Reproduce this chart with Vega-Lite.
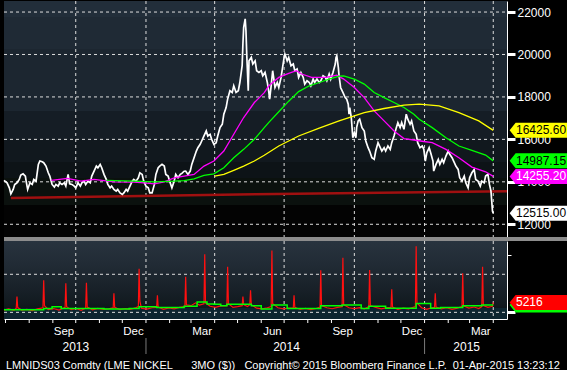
{
"$schema": "https://vega.github.io/schema/vega-lite/v6.json",
"background": "black",
"padding": 0,
"spacing": 4,
"bounds": "flush",
"config": {"view": {"stroke": null}, "font": "Liberation Sans", "axis": {"labelFont": "Liberation Sans"}},
"title": {"text": "LMNIDS03 Comdty (LME NICKEL\u00a0\u00a0\u00a0\u00a0\u00a0\u00a03MO ($))\u00a0\u00a0\u00a0Copyright\u00a9 2015 Bloomberg Finance L.P.\u00a0\u00a001-Apr-2015 13:23:12", "orient": "bottom", "anchor": "start", "frame": "group", "color": "white", "fontSize": 11, "fontWeight": "normal", "font": "Liberation Sans", "offset": 5, "dx": 2},
"datasets": {
"price": [
{"d":"2013-06-29","v":14066},{"d":"2013-07-03","v":13953},{"d":"2013-07-06","v":13716},{"d":"2013-07-08","v":13432},{"d":"2013-07-11","v":13640},{"d":"2013-07-13","v":13877},{"d":"2013-07-16","v":13953},{"d":"2013-07-19","v":14113},{"d":"2013-07-21","v":14317},{"d":"2013-07-24","v":14379},{"d":"2013-07-27","v":14270},{"d":"2013-07-28","v":14033},{"d":"2013-07-30","v":13640},{"d":"2013-08-02","v":13953},{"d":"2013-08-05","v":13877},{"d":"2013-08-07","v":14113},{"d":"2013-08-10","v":14033},{"d":"2013-08-13","v":14820},{"d":"2013-08-15","v":14980},{"d":"2013-08-18","v":14946},{"d":"2013-08-20","v":14900},{"d":"2013-08-23","v":14742},{"d":"2013-08-26","v":14426},{"d":"2013-08-28","v":14270},{"d":"2013-08-31","v":13877},{"d":"2013-09-03","v":13750},{"d":"2013-09-05","v":13877},{"d":"2013-09-08","v":13797},{"d":"2013-09-10","v":13953},{"d":"2013-09-13","v":13877},{"d":"2013-09-16","v":13953},{"d":"2013-09-18","v":13797},{"d":"2013-09-21","v":14350},{"d":"2013-09-23","v":13906},{"d":"2013-09-26","v":13877},{"d":"2013-09-29","v":13797},{"d":"2013-10-01","v":13716},{"d":"2013-10-04","v":13953},{"d":"2013-10-07","v":13797},{"d":"2013-10-09","v":13953},{"d":"2013-10-12","v":14033},{"d":"2013-10-14","v":13877},{"d":"2013-10-17","v":14033},{"d":"2013-10-20","v":13953},{"d":"2013-10-22","v":14270},{"d":"2013-10-25","v":14506},{"d":"2013-10-28","v":14742},{"d":"2013-10-30","v":14662},{"d":"2013-11-02","v":14820},{"d":"2013-11-04","v":14662},{"d":"2013-11-07","v":14350},{"d":"2013-11-10","v":14113},{"d":"2013-11-12","v":13877},{"d":"2013-11-15","v":13716},{"d":"2013-11-17","v":13797},{"d":"2013-11-20","v":13640},{"d":"2013-11-23","v":13560},{"d":"2013-11-25","v":13640},{"d":"2013-11-28","v":13480},{"d":"2013-12-01","v":13404},{"d":"2013-12-03","v":13480},{"d":"2013-12-06","v":13640},{"d":"2013-12-08","v":13560},{"d":"2013-12-11","v":13797},{"d":"2013-12-14","v":14033},{"d":"2013-12-16","v":14113},{"d":"2013-12-19","v":14033},{"d":"2013-12-22","v":14190},{"d":"2013-12-24","v":14426},{"d":"2013-12-27","v":14350},{"d":"2013-12-29","v":14033},{"d":"2014-01-01","v":13797},{"d":"2014-01-04","v":13716},{"d":"2014-01-06","v":13480},{"d":"2014-01-09","v":13480},{"d":"2014-01-12","v":13877},{"d":"2014-01-14","v":14350},{"d":"2014-01-17","v":14662},{"d":"2014-01-19","v":14742},{"d":"2014-01-22","v":14820},{"d":"2014-01-25","v":14742},{"d":"2014-01-27","v":14350},{"d":"2014-01-30","v":14270},{"d":"2014-02-01","v":14033},{"d":"2014-02-04","v":13716},{"d":"2014-02-07","v":14033},{"d":"2014-02-09","v":14350},{"d":"2014-02-12","v":14190},{"d":"2014-02-15","v":14350},{"d":"2014-02-17","v":14400},{"d":"2014-02-20","v":14500},{"d":"2014-02-22","v":14506},{"d":"2014-02-25","v":14350},{"d":"2014-02-28","v":14506},{"d":"2014-03-02","v":14820},{"d":"2014-03-05","v":15135},{"d":"2014-03-08","v":15451},{"d":"2014-03-10","v":15608},{"d":"2014-03-13","v":15766},{"d":"2014-03-15","v":15924},{"d":"2014-03-18","v":16160},{"d":"2014-03-21","v":16397},{"d":"2014-03-23","v":16160},{"d":"2014-03-26","v":16240},{"d":"2014-03-28","v":16004},{"d":"2014-03-31","v":15766},{"d":"2014-04-03","v":15845},{"d":"2014-04-05","v":16160},{"d":"2014-04-08","v":16553},{"d":"2014-04-11","v":16712},{"d":"2014-04-13","v":17187},{"d":"2014-04-16","v":17500},{"d":"2014-04-18","v":17896},{"d":"2014-04-21","v":18290},{"d":"2014-04-24","v":18210},{"d":"2014-04-26","v":18525},{"d":"2014-04-29","v":18210},{"d":"2014-05-02","v":18290},{"d":"2014-05-04","v":18680},{"d":"2014-05-07","v":19470},{"d":"2014-05-08","v":20500},{"d":"2014-05-09","v":21280},{"d":"2014-05-11","v":21680},{"d":"2014-05-12","v":21125},{"d":"2014-05-13","v":20020},{"d":"2014-05-15","v":18290},{"d":"2014-05-16","v":19700},{"d":"2014-05-19","v":19860},{"d":"2014-05-21","v":19550},{"d":"2014-05-24","v":19700},{"d":"2014-05-26","v":19235},{"d":"2014-05-29","v":19155},{"d":"2014-06-01","v":19235},{"d":"2014-06-03","v":18995},{"d":"2014-06-06","v":19155},{"d":"2014-06-09","v":18680},{"d":"2014-06-11","v":18210},{"d":"2014-06-12","v":17896},{"d":"2014-06-14","v":18525},{"d":"2014-06-16","v":19235},{"d":"2014-06-19","v":18445},{"d":"2014-06-22","v":18680},{"d":"2014-06-24","v":18445},{"d":"2014-06-27","v":18920},{"d":"2014-06-29","v":19390},{"d":"2014-07-01","v":19860},{"d":"2014-07-02","v":20020},{"d":"2014-07-05","v":19700},{"d":"2014-07-07","v":19860},{"d":"2014-07-10","v":19470},{"d":"2014-07-13","v":19550},{"d":"2014-07-15","v":19235},{"d":"2014-07-18","v":19315},{"d":"2014-07-20","v":18920},{"d":"2014-07-23","v":19155},{"d":"2014-07-26","v":18920},{"d":"2014-07-28","v":18605},{"d":"2014-07-31","v":18760},{"d":"2014-08-03","v":18680},{"d":"2014-08-05","v":18525},{"d":"2014-08-08","v":18840},{"d":"2014-08-10","v":18680},{"d":"2014-08-13","v":18840},{"d":"2014-08-16","v":18680},{"d":"2014-08-18","v":18760},{"d":"2014-08-21","v":18995},{"d":"2014-08-24","v":18920},{"d":"2014-08-26","v":18760},{"d":"2014-08-29","v":19080},{"d":"2014-08-31","v":18840},{"d":"2014-09-03","v":19155},{"d":"2014-09-06","v":19550},{"d":"2014-09-07","v":19860},{"d":"2014-09-08","v":19940},{"d":"2014-09-10","v":19390},{"d":"2014-09-11","v":18995},{"d":"2014-09-13","v":18445},{"d":"2014-09-16","v":18210},{"d":"2014-09-19","v":17970},{"d":"2014-09-21","v":17896},{"d":"2014-09-23","v":17660},{"d":"2014-09-24","v":17187},{"d":"2014-09-25","v":17500},{"d":"2014-09-27","v":17030},{"d":"2014-09-28","v":16553},{"d":"2014-09-29","v":16080},{"d":"2014-10-01","v":16317},{"d":"2014-10-03","v":16080},{"d":"2014-10-04","v":16553},{"d":"2014-10-06","v":16870},{"d":"2014-10-08","v":16950},{"d":"2014-10-11","v":16553},{"d":"2014-10-14","v":16397},{"d":"2014-10-16","v":15924},{"d":"2014-10-19","v":15608},{"d":"2014-10-21","v":15451},{"d":"2014-10-24","v":15135},{"d":"2014-10-27","v":15060},{"d":"2014-10-29","v":15451},{"d":"2014-11-01","v":15845},{"d":"2014-11-04","v":15608},{"d":"2014-11-06","v":15451},{"d":"2014-11-09","v":15608},{"d":"2014-11-11","v":15451},{"d":"2014-11-14","v":15687},{"d":"2014-11-17","v":15530},{"d":"2014-11-19","v":15845},{"d":"2014-11-22","v":16160},{"d":"2014-11-25","v":16553},{"d":"2014-11-27","v":16790},{"d":"2014-11-30","v":16553},{"d":"2014-12-02","v":16790},{"d":"2014-12-05","v":16477},{"d":"2014-12-08","v":17187},{"d":"2014-12-10","v":16950},{"d":"2014-12-13","v":16712},{"d":"2014-12-15","v":16870},{"d":"2014-12-18","v":16397},{"d":"2014-12-21","v":16240},{"d":"2014-12-23","v":15845},{"d":"2014-12-26","v":15608},{"d":"2014-12-29","v":15687},{"d":"2014-12-31","v":15530},{"d":"2015-01-02","v":14980},{"d":"2015-01-04","v":15372},{"d":"2015-01-07","v":15608},{"d":"2015-01-09","v":15372},{"d":"2015-01-12","v":14980},{"d":"2015-01-13","v":14506},{"d":"2015-01-16","v":14820},{"d":"2015-01-19","v":15060},{"d":"2015-01-21","v":14820},{"d":"2015-01-24","v":15060},{"d":"2015-01-26","v":14900},{"d":"2015-01-29","v":15215},{"d":"2015-02-01","v":15451},{"d":"2015-02-03","v":15295},{"d":"2015-02-06","v":15135},{"d":"2015-02-09","v":14900},{"d":"2015-02-11","v":14742},{"d":"2015-02-14","v":14585},{"d":"2015-02-16","v":14190},{"d":"2015-02-19","v":14033},{"d":"2015-02-22","v":14270},{"d":"2015-02-24","v":13953},{"d":"2015-02-27","v":13716},{"d":"2015-03-01","v":14190},{"d":"2015-03-04","v":14426},{"d":"2015-03-07","v":14585},{"d":"2015-03-09","v":14113},{"d":"2015-03-12","v":14033},{"d":"2015-03-15","v":13797},{"d":"2015-03-17","v":14033},{"d":"2015-03-20","v":13953},{"d":"2015-03-22","v":14270},{"d":"2015-03-25","v":14350},{"d":"2015-03-27","v":13877},{"d":"2015-03-29","v":13560},{"d":"2015-03-30","v":13087},{"d":"2015-03-31","v":12615},{"d":"2015-04-01","v":12515}
],
"ma": [
{"s":"MA50","d":"2013-08-30","v":14066},{"s":"MA50","d":"2013-09-20","v":14160},{"s":"MA50","d":"2013-10-08","v":14033},{"s":"MA50","d":"2013-10-25","v":14113},{"s":"MA50","d":"2013-11-20","v":14000},{"s":"MA50","d":"2013-12-16","v":13985},{"s":"MA50","d":"2013-12-29","v":13953},{"s":"MA50","d":"2014-01-12","v":13906},{"s":"MA50","d":"2014-01-25","v":14000},{"s":"MA50","d":"2014-02-07","v":14190},{"s":"MA50","d":"2014-02-20","v":14270},{"s":"MA50","d":"2014-03-05","v":14350},{"s":"MA50","d":"2014-03-18","v":14742},{"s":"MA50","d":"2014-03-31","v":14980},{"s":"MA50","d":"2014-04-13","v":15451},{"s":"MA50","d":"2014-04-26","v":16240},{"s":"MA50","d":"2014-05-09","v":17030},{"s":"MA50","d":"2014-05-23","v":17737},{"s":"MA50","d":"2014-06-05","v":18200},{"s":"MA50","d":"2014-06-11","v":18525},{"s":"MA50","d":"2014-06-24","v":18920},{"s":"MA50","d":"2014-07-07","v":19110},{"s":"MA50","d":"2014-07-17","v":19235},{"s":"MA50","d":"2014-07-24","v":19080},{"s":"MA50","d":"2014-08-06","v":18920},{"s":"MA50","d":"2014-08-25","v":18920},{"s":"MA50","d":"2014-09-08","v":19030},{"s":"MA50","d":"2014-09-17","v":18840},{"s":"MA50","d":"2014-10-01","v":18445},{"s":"MA50","d":"2014-10-14","v":17970},{"s":"MA50","d":"2014-10-27","v":17340},{"s":"MA50","d":"2014-11-09","v":16870},{"s":"MA50","d":"2014-11-22","v":16397},{"s":"MA50","d":"2014-12-05","v":16035},{"s":"MA50","d":"2014-12-18","v":15970},{"s":"MA50","d":"2014-12-31","v":15900},{"s":"MA50","d":"2015-01-11","v":15845},{"s":"MA50","d":"2015-01-29","v":15530},{"s":"MA50","d":"2015-02-15","v":15135},{"s":"MA50","d":"2015-03-04","v":14695},{"s":"MA50","d":"2015-03-22","v":14473},{"s":"MA50","d":"2015-04-01","v":14255.2},
{"s":"MA100","d":"2013-11-10","v":14066},{"s":"MA100","d":"2013-12-16","v":14033},{"s":"MA100","d":"2014-01-12","v":14000},{"s":"MA100","d":"2014-02-07","v":14033},{"s":"MA100","d":"2014-02-20","v":14060},{"s":"MA100","d":"2014-03-05","v":14140},{"s":"MA100","d":"2014-03-18","v":14300},{"s":"MA100","d":"2014-03-31","v":14379},{"s":"MA100","d":"2014-04-13","v":14662},{"s":"MA100","d":"2014-04-26","v":15135},{"s":"MA100","d":"2014-05-09","v":15530},{"s":"MA100","d":"2014-05-23","v":16004},{"s":"MA100","d":"2014-06-05","v":16553},{"s":"MA100","d":"2014-06-11","v":16800},{"s":"MA100","d":"2014-06-24","v":17300},{"s":"MA100","d":"2014-07-07","v":17800},{"s":"MA100","d":"2014-07-20","v":18250},{"s":"MA100","d":"2014-08-03","v":18525},{"s":"MA100","d":"2014-08-16","v":18680},{"s":"MA100","d":"2014-08-29","v":18840},{"s":"MA100","d":"2014-09-11","v":18985},{"s":"MA100","d":"2014-09-17","v":18995},{"s":"MA100","d":"2014-10-01","v":18840},{"s":"MA100","d":"2014-10-14","v":18605},{"s":"MA100","d":"2014-10-27","v":18210},{"s":"MA100","d":"2014-11-09","v":17970},{"s":"MA100","d":"2014-11-22","v":17737},{"s":"MA100","d":"2014-12-05","v":17500},{"s":"MA100","d":"2014-12-18","v":17187},{"s":"MA100","d":"2014-12-25","v":16950},{"s":"MA100","d":"2015-01-11","v":16553},{"s":"MA100","d":"2015-01-29","v":16080},{"s":"MA100","d":"2015-02-15","v":15687},{"s":"MA100","d":"2015-03-04","v":15483},{"s":"MA100","d":"2015-03-22","v":15262},{"s":"MA100","d":"2015-04-01","v":14987.15},
{"s":"MA200","d":"2014-04-01","v":14270},{"s":"MA200","d":"2014-04-13","v":14350},{"s":"MA200","d":"2014-04-26","v":14540},{"s":"MA200","d":"2014-05-09","v":14742},{"s":"MA200","d":"2014-05-23","v":14980},{"s":"MA200","d":"2014-06-05","v":15250},{"s":"MA200","d":"2014-06-24","v":15687},{"s":"MA200","d":"2014-07-20","v":16160},{"s":"MA200","d":"2014-08-16","v":16525},{"s":"MA200","d":"2014-09-11","v":16870},{"s":"MA200","d":"2014-09-24","v":17030},{"s":"MA200","d":"2014-10-14","v":17265},{"s":"MA200","d":"2014-11-09","v":17455},{"s":"MA200","d":"2014-12-05","v":17612},{"s":"MA200","d":"2014-12-25","v":17660},{"s":"MA200","d":"2015-01-20","v":17580},{"s":"MA200","d":"2015-02-15","v":17265},{"s":"MA200","d":"2015-03-13","v":16870},{"s":"MA200","d":"2015-04-01","v":16425.6}
],
"red": [{"d":"2013-07-08","v":13243},{"d":"2014-05-23","v":13420},{"d":"2015-04-19","v":13560}],
"lastTop": [{"s":"MA200","v":16425.6,"t":"16425.60"},{"s":"MA100","v":14987.15,"t":"14987.15"},{"s":"MA50","v":14255.2,"t":"14255.20"},{"s":"PX","v":12515,"t":"12515.00"}],
"lastBot": [{"s":"VOLMA","v":3900,"t":"3900"},{"s":"VOL","v":5216,"t":"5216"}],
"qtr": [{"d":"2013-10-01"},{"d":"2014-01-01"},{"d":"2014-04-01"},{"d":"2014-07-01"},{"d":"2014-10-01"},{"d":"2015-01-01"},{"d":"2015-04-01"}],
"months": [{"d":"2013-07-01"},{"d":"2013-08-01"},{"d":"2013-09-01"},{"d":"2013-10-01"},{"d":"2013-11-01"},{"d":"2013-12-01"},{"d":"2014-01-01"},{"d":"2014-02-01"},{"d":"2014-03-01"},{"d":"2014-04-01"},{"d":"2014-05-01"},{"d":"2014-06-01"},{"d":"2014-07-01"},{"d":"2014-08-01"},{"d":"2014-09-01"},{"d":"2014-10-01"},{"d":"2014-11-01"},{"d":"2014-12-01"},{"d":"2015-01-01"},{"d":"2015-02-01"},{"d":"2015-03-01"},{"d":"2015-04-01"}],
"years": [{"d":"2014-01-01"},{"d":"2015-01-01"}],
"gridTop": [{"v":12000},{"v":14000},{"v":16000},{"v":18000},{"v":20000},{"v":22000}],
"gridBot": [{"v":0},{"v":20000}],
"vol": [
{"d":"2013-06-29","v":1200},{"d":"2013-07-05","v":1800},{"d":"2013-07-12","v":1000},{"d":"2013-07-15","v":2200},{"d":"2013-07-16","v":8270},{"d":"2013-07-17","v":2500},{"d":"2013-07-22","v":1200},{"d":"2013-07-29","v":1600},{"d":"2013-08-05","v":900},{"d":"2013-08-12","v":1800},{"d":"2013-08-19","v":2400},{"d":"2013-08-20","v":16860},{"d":"2013-08-21","v":3500},{"d":"2013-08-26","v":1500},{"d":"2013-09-02","v":2000},{"d":"2013-09-09","v":1200},{"d":"2013-09-17","v":2600},{"d":"2013-09-18","v":15290},{"d":"2013-09-19","v":3000},{"d":"2013-09-25","v":1400},{"d":"2013-10-02","v":2000},{"d":"2013-10-08","v":1100},{"d":"2013-10-14","v":2200},{"d":"2013-10-15","v":15600},{"d":"2013-10-16","v":2800},{"d":"2013-10-23","v":1300},{"d":"2013-10-30","v":2100},{"d":"2013-11-06","v":1500},{"d":"2013-11-13","v":1900},{"d":"2013-11-19","v":2300},{"d":"2013-11-20","v":10050},{"d":"2013-11-21","v":2600},{"d":"2013-11-28","v":1400},{"d":"2013-12-05","v":2000},{"d":"2013-12-12","v":1600},{"d":"2013-12-19","v":2500},{"d":"2013-12-22","v":3000},{"d":"2013-12-23","v":22930},{"d":"2013-12-24","v":6000},{"d":"2013-12-26","v":2200},{"d":"2014-01-02","v":1700},{"d":"2014-01-09","v":2400},{"d":"2014-01-15","v":2600},{"d":"2014-01-16","v":9000},{"d":"2014-01-17","v":2800},{"d":"2014-01-24","v":1600},{"d":"2014-01-31","v":2300},{"d":"2014-02-07","v":1800},{"d":"2014-02-14","v":2600},{"d":"2014-02-21","v":3000},{"d":"2014-02-22","v":18740},{"d":"2014-02-23","v":4000},{"d":"2014-03-01","v":3500},{"d":"2014-03-07","v":5000},{"d":"2014-03-12","v":3800},{"d":"2014-03-18","v":4500},{"d":"2014-03-19","v":30470},{"d":"2014-03-20","v":5000},{"d":"2014-03-26","v":3200},{"d":"2014-04-02","v":2600},{"d":"2014-04-09","v":3400},{"d":"2014-04-17","v":3500},{"d":"2014-04-18","v":23980},{"d":"2014-04-19","v":4500},{"d":"2014-04-25","v":2600},{"d":"2014-05-01","v":3000},{"d":"2014-05-07","v":3500},{"d":"2014-05-08","v":8270},{"d":"2014-05-09","v":4000},{"d":"2014-05-14","v":3000},{"d":"2014-05-17","v":4000},{"d":"2014-05-18","v":11620},{"d":"2014-05-19","v":4000},{"d":"2014-05-26","v":2200},{"d":"2014-06-02","v":1800},{"d":"2014-06-09","v":2400},{"d":"2014-06-14","v":3000},{"d":"2014-06-15","v":32560},{"d":"2014-06-16","v":4500},{"d":"2014-06-23","v":2400},{"d":"2014-06-30","v":1800},{"d":"2014-07-07","v":2200},{"d":"2014-07-13","v":2400},{"d":"2014-07-14","v":9000},{"d":"2014-07-15","v":2600},{"d":"2014-07-22","v":1500},{"d":"2014-07-29","v":2100},{"d":"2014-08-05","v":1400},{"d":"2014-08-12","v":2000},{"d":"2014-08-17","v":2800},{"d":"2014-08-18","v":22100},{"d":"2014-08-19","v":3500},{"d":"2014-08-26","v":2400},{"d":"2014-09-02","v":1900},{"d":"2014-09-09","v":2600},{"d":"2014-09-15","v":3000},{"d":"2014-09-16","v":28700},{"d":"2014-09-17","v":4000},{"d":"2014-09-24","v":2400},{"d":"2014-10-01","v":2000},{"d":"2014-10-08","v":2500},{"d":"2014-10-14","v":1800},{"d":"2014-10-20","v":3000},{"d":"2014-10-21","v":22250},{"d":"2014-10-22","v":3500},{"d":"2014-10-29","v":2600},{"d":"2014-11-05","v":1800},{"d":"2014-11-12","v":2300},{"d":"2014-11-18","v":2600},{"d":"2014-11-19","v":12150},{"d":"2014-11-20","v":2800},{"d":"2014-11-27","v":1600},{"d":"2014-12-04","v":2200},{"d":"2014-12-11","v":1800},{"d":"2014-12-17","v":2600},{"d":"2014-12-20","v":3000},{"d":"2014-12-21","v":34800},{"d":"2014-12-22","v":5000},{"d":"2014-12-28","v":2400},{"d":"2015-01-04","v":1600},{"d":"2015-01-10","v":2400},{"d":"2015-01-14","v":2600},{"d":"2015-01-15","v":10050},{"d":"2015-01-16","v":2800},{"d":"2015-01-23","v":1800},{"d":"2015-01-30","v":2400},{"d":"2015-02-06","v":1600},{"d":"2015-02-13","v":2200},{"d":"2015-02-19","v":3000},{"d":"2015-02-20","v":20570},{"d":"2015-02-21","v":3400},{"d":"2015-02-28","v":2200},{"d":"2015-03-07","v":2800},{"d":"2015-03-13","v":2000},{"d":"2015-03-17","v":3000},{"d":"2015-03-18","v":23980},{"d":"2015-03-19","v":3500},{"d":"2015-03-25","v":2600},{"d":"2015-03-31","v":3200},{"d":"2015-04-01","v":5216}
],
"volma": [
{"d":"2013-06-29","v":1300},{"d":"2013-08-20","v":2000},{"d":"2013-08-31","v":2900},{"d":"2013-09-12","v":2000},{"d":"2013-11-07","v":1700},{"d":"2013-12-10","v":2000},{"d":"2013-12-23","v":2900},{"d":"2014-01-15","v":2500},{"d":"2014-02-20","v":3250},{"d":"2014-03-09","v":5500},{"d":"2014-03-22","v":4450},{"d":"2014-03-31","v":4300},{"d":"2014-04-09","v":3400},{"d":"2014-04-17","v":4300},{"d":"2014-05-19","v":3400},{"d":"2014-06-01","v":1700},{"d":"2014-06-15","v":3900},{"d":"2014-07-05","v":2000},{"d":"2014-08-18","v":3400},{"d":"2014-09-15","v":3900},{"d":"2014-10-10","v":2000},{"d":"2014-10-20","v":3250},{"d":"2014-11-11","v":2200},{"d":"2014-12-21","v":4600},{"d":"2015-01-09","v":2200},{"d":"2015-01-22","v":2500},{"d":"2015-02-20","v":3400},{"d":"2015-03-17","v":3900},{"d":"2015-04-01","v":3900}
]
},
"vconcat": [
{
"width": 503, "height": 236,
"layer": [
{"data": {"values": [{}]},
 "mark": {"type": "rect", "fill": {"gradient": "linear", "x1": 0, "y1": 0, "x2": 0, "y2": 1, "stops": [{"offset": 0, "color": "#222e3a"}, {"offset": 0.068, "color": "#222e3a"}, {"offset": 0.068, "color": "#1f2a35"}, {"offset": 0.203, "color": "#1f2a35"}, {"offset": 0.203, "color": "#1c2630"}, {"offset": 0.466, "color": "#1c2630"}, {"offset": 0.466, "color": "#151d25"}, {"offset": 0.589, "color": "#151d25"}, {"offset": 0.589, "color": "#11181e"}, {"offset": 0.682, "color": "#11181e"}, {"offset": 0.682, "color": "#0d1317"}, {"offset": 0.75, "color": "#0d1317"}, {"offset": 0.75, "color": "#0b110e"}, {"offset": 0.864, "color": "#0b110e"}, {"offset": 0.864, "color": "#030303"}, {"offset": 1, "color": "#030303"}]}},
 "encoding": {
  "x": {"datum": {"year": 2013, "month": 6, "date": 29, "utc": true}, "type": "temporal",
   "scale": {"type": "utc", "domain": [{"year": 2013, "month": 6, "date": 29, "utc": true}, {"year": 2015, "month": 4, "date": 19, "utc": true}]},
   "axis": {"title": null, "labels": false, "ticks": false, "domain": false, "grid": false}},
  "x2": {"datum": {"year": 2015, "month": 4, "date": 19, "utc": true}},
  "y": {"datum": 22520, "type": "quantitative", "scale": {"domain": [11400, 22520], "nice": false, "zero": false},
   "axis": {"title": null, "orient": "right", "values": [12000, 13000, 14000, 15000, 16000, 17000, 18000, 19000, 20000, 21000, 22000], "labelExpr": "datum.value % 2000 == 0 ? format(datum.value, 'd') : ''", "labelColor": "white", "labelFontSize": 12, "labelPadding": 2, "tickColor": "white", "tickSize": {"condition": {"test": "datum.value % 2000 == 0", "value": 8}, "value": 4}, "tickWidth": {"condition": {"test": "datum.value % 2000 == 0", "value": 3}, "value": 1}, "domainColor": "white", "domainWidth": 1, "grid": false}},
  "y2": {"datum": 11400}
 }},
{"data": {"name": "qtr"}, "mark": {"type": "rule", "color": "#dddddd", "strokeWidth": 1, "strokeDash": [3, 3]},
 "encoding": {"x": {"field": "d", "type": "temporal"}, "y": {"datum": 22520, "type": "quantitative"}, "y2": {"datum": 11400}}},
{"data": {"name": "gridTop"}, "mark": {"type": "rule", "color": "#dddddd", "strokeWidth": 1, "strokeDash": [3, 3]},
 "encoding": {"y": {"field": "v", "type": "quantitative"}, "x": {"datum": {"year": 2013, "month": 6, "date": 29, "utc": true}, "type": "temporal"}, "x2": {"datum": {"year": 2015, "month": 4, "date": 19, "utc": true}}}},
{"data": {"name": "red"}, "mark": {"type": "line", "color": "#a01010", "strokeWidth": 2.5},
 "encoding": {"x": {"field": "d", "type": "temporal"}, "y": {"field": "v", "type": "quantitative"}}},
{"data": {"name": "price"}, "mark": {"type": "line", "color": "white", "strokeWidth": 1.7},
 "encoding": {"x": {"field": "d", "type": "temporal"}, "y": {"field": "v", "type": "quantitative"}}},
{"data": {"name": "ma"}, "mark": {"type": "line", "strokeWidth": 1.3},
 "encoding": {"x": {"field": "d", "type": "temporal"}, "y": {"field": "v", "type": "quantitative"},
  "color": {"field": "s", "type": "nominal", "scale": {"domain": ["MA200", "MA100", "MA50", "PX", "VOL", "VOLMA"], "range": ["#ffff00", "#00ff00", "#ff00ff", "#ffffff", "#ff0000", "#00ff00"]}, "legend": null}}},
{"data": {"values": [{}]}, "mark": {"type": "rule", "color": "#8c8c8c", "strokeWidth": 4, "yOffset": 2},
 "encoding": {"x": {"datum": {"year": 2013, "month": 6, "date": 29, "utc": true}, "type": "temporal"}, "x2": {"datum": {"year": 2015, "month": 7, "date": 15, "utc": true}}, "y": {"datum": 11400, "type": "quantitative"}}},
{"data": {"name": "lastTop"}, "mark": {"type": "point", "shape": "M0.35,0L1.15,-1L9,-1L9,1L1.15,1Z", "size": 225, "filled": true, "opacity": 1, "strokeWidth": 0},
 "encoding": {"x": {"datum": {"year": 2015, "month": 4, "date": 19, "utc": true}, "type": "temporal"}, "y": {"field": "v", "type": "quantitative"},
  "color": {"field": "s", "type": "nominal", "scale": {"domain": ["MA200", "MA100", "MA50", "PX", "VOL", "VOLMA"], "range": ["#ffff00", "#00ff00", "#ff00ff", "#ffffff", "#ff0000", "#00ff00"]}, "legend": null}}},
{"data": {"name": "lastTop"}, "mark": {"type": "text", "align": "left", "baseline": "middle", "dx": 9, "fontSize": 12},
 "encoding": {"x": {"datum": {"year": 2015, "month": 4, "date": 19, "utc": true}, "type": "temporal"}, "y": {"field": "v", "type": "quantitative"}, "text": {"field": "t"},
  "color": {"condition": {"test": "datum.s == 'MA50' || datum.s == 'VOL'", "value": "white"}, "value": "black"}}}
]
},
{
"width": 503, "height": 78,
"layer": [
{"data": {"values": [{}]},
 "mark": {"type": "rect", "fill": {"gradient": "linear", "x1": 0, "y1": 0, "x2": 0, "y2": 1, "stops": [{"offset": 0, "color": "#28333e"}, {"offset": 0.3, "color": "#212b35"}, {"offset": 0.55, "color": "#1a232b"}, {"offset": 0.8, "color": "#121a20"}, {"offset": 0.86, "color": "#0f161b"}, {"offset": 0.86, "color": "#0d2530"}, {"offset": 1, "color": "#0d2530"}]}},
 "encoding": {
  "x": {"datum": {"year": 2013, "month": 6, "date": 29, "utc": true}, "type": "temporal",
   "scale": {"type": "utc", "domain": [{"year": 2013, "month": 6, "date": 29, "utc": true}, {"year": 2015, "month": 4, "date": 19, "utc": true}]},
   "axis": {"title": null, "values": [
     {"year": 2013, "month": 9, "date": 15, "utc": true}, {"year": 2013, "month": 12, "date": 15, "utc": true}, {"year": 2014, "month": 3, "date": 15, "utc": true}, {"year": 2014, "month": 6, "date": 15, "utc": true}, {"year": 2014, "month": 9, "date": 15, "utc": true}, {"year": 2014, "month": 12, "date": 15, "utc": true}, {"year": 2015, "month": 3, "date": 15, "utc": true},
     {"year": 2013, "month": 9, "date": 30, "hours": 12, "utc": true}, {"year": 2014, "month": 7, "date": 3, "hours": 12, "utc": true}, {"year": 2015, "month": 2, "date": 24, "hours": 12, "utc": true}],
    "labelExpr": "utchours(datum.value) == 12 ? utcFormat(datum.value, '%Y') : utcFormat(datum.value, '%b')",
    "labelOverlap": false, "labelFlush": false, "labelBound": false,
    "labelColor": "white",
    "labelFontSize": {"condition": {"test": "utchours(datum.value) == 12", "value": 12}, "value": 11.5},
    "labelPadding": {"condition": {"test": "utchours(datum.value) == 12", "value": 22}, "value": 6},
    "domainColor": "white", "domainWidth": 1, "ticks": false, "tickSize": 0, "grid": false}},
  "x2": {"datum": {"year": 2015, "month": 4, "date": 19, "utc": true}},
  "y": {"datum": 37500, "type": "quantitative", "scale": {"domain": [-3500, 37500], "nice": false, "zero": false},
   "axis": {"title": null, "orient": "right", "values": [0, 10000, 20000, 30000], "labelExpr": "datum.value == 20000 ? '20000' : ''", "labelColor": "white", "labelFontSize": 12, "labelPadding": 2, "tickColor": "white", "tickSize": {"condition": {"test": "datum.value % 20000 == 0", "value": 8}, "value": 4}, "tickWidth": {"condition": {"test": "datum.value % 20000 == 0", "value": 3}, "value": 1}, "domainColor": "white", "grid": false}},
  "y2": {"datum": -3500}
 }},
{"data": {"name": "qtr"}, "mark": {"type": "rule", "color": "#dddddd", "strokeWidth": 1, "strokeDash": [3, 3]},
 "encoding": {"x": {"field": "d", "type": "temporal"}, "y": {"datum": 37500, "type": "quantitative"}, "y2": {"datum": -3500}}},
{"data": {"name": "gridBot"}, "mark": {"type": "rule", "color": "#dddddd", "strokeWidth": 1, "strokeDash": [3, 3]},
 "encoding": {"y": {"field": "v", "type": "quantitative"}, "x": {"datum": {"year": 2013, "month": 6, "date": 29, "utc": true}, "type": "temporal"}, "x2": {"datum": {"year": 2015, "month": 4, "date": 19, "utc": true}}}},
{"data": {"name": "months"}, "mark": {"type": "rule", "color": "white", "strokeWidth": 1, "y2Offset": 4},
 "encoding": {"x": {"field": "d", "type": "temporal"}, "y": {"datum": -3500, "type": "quantitative"}, "y2": {"datum": -3500}}},
{"data": {"name": "years"}, "mark": {"type": "rule", "color": "#7a7a7a", "strokeWidth": 1, "yOffset": 19, "y2Offset": 35},
 "encoding": {"x": {"field": "d", "type": "temporal"}, "y": {"datum": -3500, "type": "quantitative"}, "y2": {"datum": -3500}}},
{"data": {"name": "vol"}, "mark": {"type": "line", "color": "#ff1010", "strokeWidth": 1.2},
 "encoding": {"x": {"field": "d", "type": "temporal"}, "y": {"field": "v", "type": "quantitative"}}},
{"data": {"name": "volma"}, "mark": {"type": "line", "color": "#00ff00", "strokeWidth": 1.5, "interpolate": "step-after"},
 "encoding": {"x": {"field": "d", "type": "temporal"}, "y": {"field": "v", "type": "quantitative"}}},
{"data": {"name": "lastBot"}, "mark": {"type": "point", "shape": "M0.35,0L1.15,-1L9,-1L9,1L1.15,1Z", "size": 225, "filled": true, "opacity": 1, "strokeWidth": 0},
 "encoding": {"x": {"datum": {"year": 2015, "month": 4, "date": 19, "utc": true}, "type": "temporal"}, "y": {"field": "v", "type": "quantitative"},
  "color": {"field": "s", "type": "nominal", "scale": {"domain": ["MA200", "MA100", "MA50", "PX", "VOL", "VOLMA"], "range": ["#ffff00", "#00ff00", "#ff00ff", "#ffffff", "#ff0000", "#00ff00"]}, "legend": null}}},
{"data": {"name": "lastBot"}, "transform": [{"filter": "datum.s == 'VOL'"}], "mark": {"type": "text", "align": "left", "baseline": "middle", "dx": 9, "fontSize": 12, "color": "white"},
 "encoding": {"x": {"datum": {"year": 2015, "month": 4, "date": 19, "utc": true}, "type": "temporal"}, "y": {"field": "v", "type": "quantitative"}, "text": {"field": "t"}}}
]
}
]
}
